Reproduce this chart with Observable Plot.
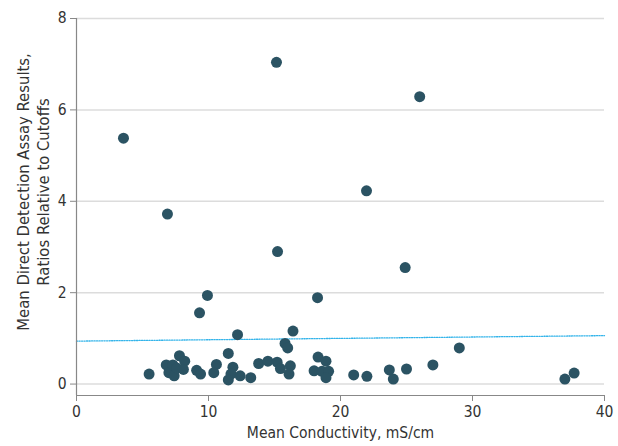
<!DOCTYPE html>
<html><head><meta charset="utf-8">
<script src="https://cdn.jsdelivr.net/npm/d3@7"></script>
<script src="https://cdn.jsdelivr.net/npm/@observablehq/plot@0.6"></script>
<style>body{margin:0;background:#fff}</style>
</head><body><div id="chart"></div><script>
const conductivity = [15.15,26.0,3.56,21.97,6.89,15.23,24.9,9.92,18.26,9.32,
  12.2,16.4,15.8,16.0,29.0,
  5.5,6.8,7.0,7.3,7.4,7.6,7.8,8.2,8.1,9.1,9.4,
  10.6,10.4,11.5,11.85,11.7,11.5,12.4,13.2,13.8,
  14.5,15.2,15.45,16.2,16.1,
  18.0,18.3,18.9,18.6,19.1,18.9,
  21.0,22.0,23.7,24.0,25.0,27.0,37.0,37.7];
const assayRatio = [7.04,6.29,5.38,4.23,3.72,2.90,2.55,1.94,1.89,1.56,
  1.08,1.16,0.89,0.79,0.79,
  0.22,0.42,0.25,0.42,0.18,0.35,0.62,0.50,0.32,0.30,0.22,
  0.43,0.25,0.67,0.37,0.22,0.09,0.18,0.14,0.45,
  0.50,0.48,0.34,0.40,0.22,
  0.29,0.59,0.50,0.28,0.28,0.14,
  0.20,0.17,0.31,0.11,0.33,0.42,0.11,0.24];
const cutoffX = [0, 40];
const cutoffY = [0.94, 1.06];
const xTicks = [0, 10, 20, 30, 40];
const yTicks = [0, 2, 4, 6, 8];
const xLabel = "Mean Conductivity, mS/cm";
const yLabel = "Mean Direct Detection Assay Results,\nRatios Relative to Cutoffs";

const points = conductivity.map((c, i) => ({x: c, y: assayRatio[i]}));
const cutoff = cutoffX.map((c, i) => ({x: c, y: cutoffY[i]}));

const chart = Plot.plot({
  width: 618,
  height: 446,
  marginLeft: 76,
  marginRight: 14,
  marginTop: 18,
  marginBottom: 51,
  style: {fontFamily: "'DejaVu Sans Condensed', 'Liberation Sans Narrow', 'DejaVu Sans', sans-serif", fontSize: "15px", color: "#333", background: "#fff"},
  x: {domain: [0, 40]},
  y: {domain: [-0.25, 8]},
  marks: [
    Plot.ruleY(yTicks, {stroke: "#dcdcdc", strokeWidth: 1.5}),
    Plot.line(cutoff, {x: "x", y: "y", stroke: "#33b4ea", strokeWidth: 1.3, strokeDasharray: "1.2,1.3"}),
    Plot.dot(points, {x: "x", y: "y", r: 5.5, fill: "#2b5363", stroke: "none"}),
    Plot.ruleX([0], {stroke: "#888", strokeWidth: 1.2}),
    Plot.ruleY([-0.25], {stroke: "#888", strokeWidth: 1.2}),
    Plot.axisX({ticks: xTicks, tickSize: 6, tickPadding: 4, stroke: "#888", fill: "#333", fontSize: 15.5, label: null}),
    Plot.axisY({ticks: yTicks, tickSize: 6, tickPadding: 4, stroke: "#888", fill: "#333", fontSize: 15.5, label: null}),
    Plot.text([xLabel], {frameAnchor: "bottom", dy: 42, fill: "#333", fontSize: 15.5}),
    Plot.text([yLabel], {frameAnchor: "left", textAnchor: "middle", dx: -44, dy: -15, rotate: -90, fill: "#333", fontSize: 16.5, lineHeight: 1.22})
  ]
});
document.getElementById("chart").appendChild(chart);
</script></body></html>
